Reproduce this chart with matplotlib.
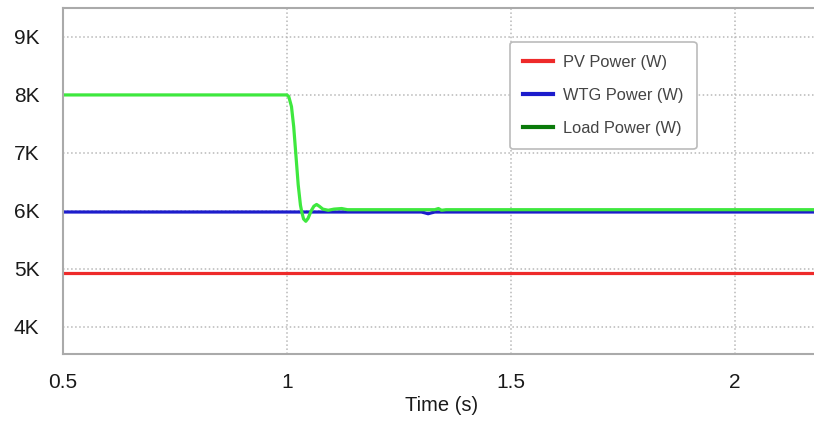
import matplotlib
matplotlib.use("Agg")
import matplotlib.pyplot as plt
from matplotlib.ticker import FuncFormatter

plt.rcParams['font.family'] = ['Liberation Sans', 'DejaVu Sans']

# valeurs (temps en s, puissance en W)
t_pv = [0.5, 2.3]
pv_power = [4930, 4930]

t_wtg = [0.5, 1.30, 1.308, 1.315, 1.322, 1.33, 2.3]
wtg_power = [5980, 5980, 5965, 5950, 5965, 5980, 5980]

t_load = [0.5, 1.0, 1.004, 1.010, 1.015, 1.019, 1.025, 1.030, 1.033, 1.037,
          1.042, 1.047, 1.054, 1.060, 1.066, 1.072, 1.080, 1.092, 1.105,
          1.122, 1.135, 1.33, 1.338, 1.345, 1.355, 2.3]
load_power = [8000, 8000, 7970, 7800, 7450, 7050, 6450, 6100, 5980, 5860,
              5820, 5870, 6000, 6080, 6110, 6080, 6030, 6010, 6030,
              6040, 6020, 6020, 6040, 6010, 6020, 6020]

x_ticks = [0.5, 1, 1.5, 2]
x_labels = ['0.5', '1', '1.5', '2']
y_ticks = [4000, 5000, 6000, 7000, 8000, 9000]

fig = plt.figure(figsize=(8.14, 4.23), dpi=100)
ax = fig.add_axes([63 / 814, 1 - 354 / 423, (821 - 63) / 814, (354 - 8) / 423])

ax.plot(t_pv, pv_power, color='#ee2a2a', lw=2.3, label='PV Power (W)')
ax.plot(t_wtg, wtg_power, color='#1c1ccc', lw=2.3, label='WTG Power (W)')
ax.plot(t_load, load_power, color='#3ee83e', lw=2.3, label='Load Power (W)')

ax.set_xlim(0.5, 2.192)
ax.set_ylim(3530, 9500)
ax.set_xticks(x_ticks)
ax.set_xticklabels(x_labels)
ax.set_yticks(y_ticks)
ax.yaxis.set_major_formatter(FuncFormatter(lambda v, p: f'{int(v / 1000)}K'))
ax.tick_params(length=0, labelsize=15, colors='#1a1a1a')
ax.tick_params(axis='x', pad=13.5)
ax.tick_params(axis='y', pad=17)

ax.grid(True, linestyle=':', color='#b8b8b8', lw=1.1)
for s in ax.spines.values():
    s.set_color('#aaaaaa')
    s.set_linewidth(1.5)
ax.spines['right'].set_visible(False)

ax.set_xlabel('Time (s)', fontsize=14.5, color='#1a1a1a', labelpad=3)

leg = ax.legend(loc='upper left', bbox_to_anchor=((510 - 63) / 758, (354 - 42) / 346),
                borderaxespad=0, fontsize=11.8, handlelength=1.8, handletextpad=0.65,
                labelspacing=1.1, borderpad=0.8, fancybox=True, framealpha=1,
                edgecolor='#bbbbbb')
leg.get_frame().set_linewidth(1.2)
for txt in leg.get_texts():
    txt.set_color('#444444')
leg.get_lines()[2].set_color('#0a7a0a')
for ln in leg.get_lines():
    ln.set_linewidth(3)

fig.savefig('out.png', dpi=100)
